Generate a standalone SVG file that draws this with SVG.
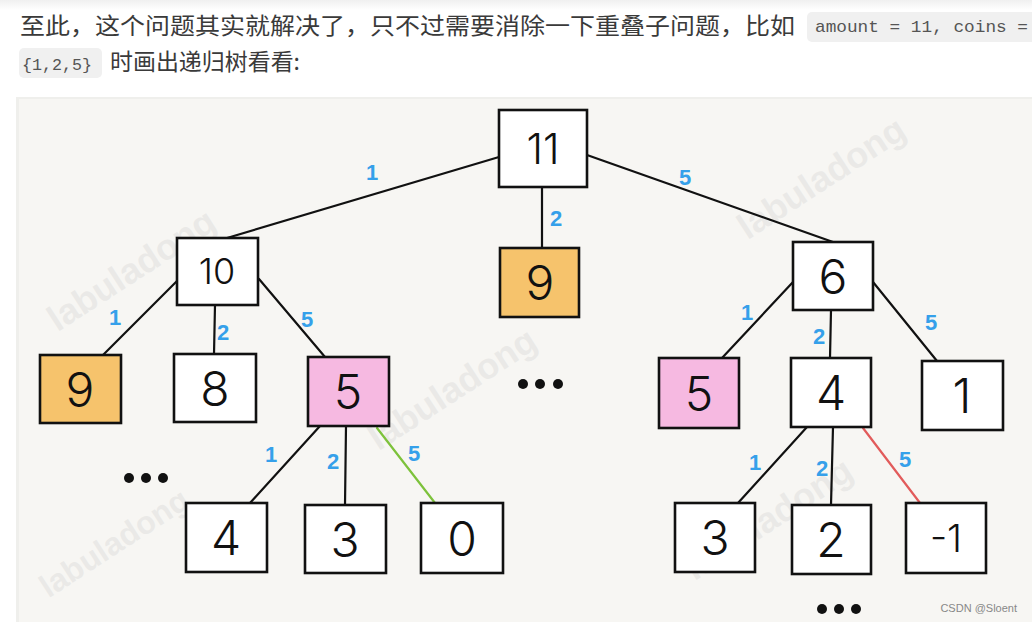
<svg xmlns="http://www.w3.org/2000/svg" width="1032" height="622" viewBox="0 0 1032 622">
<style>
.hdr{font-family:"Noto Sans CJK SC","Liberation Sans",sans-serif;font-size:23px;fill:#3a3a3a}
.code{font-family:"Liberation Mono","DejaVu Sans Mono",monospace;font-size:17px;fill:#555}
.codebg{fill:#f0f0f0}
.box{stroke:#111;stroke-width:2.6;fill:#fff}
.orange{fill:#f6c36c}
.pink{fill:#f6b9e1}
.num{font-family:Inter,Lato,"DejaVu Sans",sans-serif;font-weight:300;font-size:48px;fill:#111;text-anchor:middle}
.edge{stroke:#111;stroke-width:2.2;fill:none;stroke-linecap:round}
.lbl{font-family:"Liberation Sans",Arial,sans-serif;font-size:22px;font-weight:bold;fill:#35a0ea;text-anchor:middle}
.wm{font-family:"Liberation Sans",Arial,sans-serif;font-size:36px;font-weight:bold;fill:#dddddb;fill-opacity:0.5;text-anchor:middle}
.dot{fill:#111}
</style>
<defs>
<linearGradient id="topfade" x1="0" y1="0" x2="0" y2="1">
<stop offset="0" stop-color="#f0f0f0"/>
<stop offset="1" stop-color="#ffffff"/>
</linearGradient>
</defs>
<rect x="0" y="0" width="1032" height="622" fill="#fff"/>
<rect x="0" y="0" width="1032" height="10" fill="url(#topfade)"/>
<!-- header text -->
<text class="hdr" x="20" y="34" textLength="775" lengthAdjust="spacingAndGlyphs">至此，这个问题其实就解决了，只不过需要消除一下重叠子问题，比如</text>
<rect class="codebg" x="807" y="12" width="240" height="30" rx="5"/>
<text class="code" x="815" y="32" textLength="213" lengthAdjust="spacingAndGlyphs">amount = 11, coins =</text>
<rect class="codebg" x="19" y="48" width="83" height="30" rx="5"/>
<text class="code" x="22" y="70" textLength="70" lengthAdjust="spacingAndGlyphs">{1,2,5}</text>
<text class="hdr" x="110" y="70" textLength="190" lengthAdjust="spacingAndGlyphs">时画出递归树看看:</text>
<!-- paper -->
<rect x="16" y="97" width="1020" height="530" fill="#efefec"/>
<rect x="19" y="99" width="1016" height="526" fill="#f7f6f3"/>
<!-- watermarks -->
<g id="watermarks">
<text class="wm" transform="translate(138,280) rotate(-33)">labuladong</text>
<text class="wm" transform="translate(828,188) rotate(-33)">labuladong</text>
<text class="wm" transform="translate(459,399) rotate(-33)">labuladong</text>
<text class="wm" transform="translate(120,552) rotate(-33)" style="font-size:32px">labuladong</text>
<text class="wm" transform="translate(775,529) rotate(-33)">labuladong</text>
</g>
<!-- connectors -->
<g id="connectors">
<line class="edge" x1="499" y1="157" x2="227" y2="238"/>
<line class="edge" x1="542" y1="187" x2="542" y2="248"/>
<line class="edge" x1="587" y1="155" x2="833" y2="242"/>
<line class="edge" x1="177" y1="281" x2="103" y2="355"/>
<line class="edge" x1="215" y1="305" x2="214" y2="354"/>
<line class="edge" x1="259" y1="279" x2="325" y2="357"/>
<line class="edge" x1="320" y1="426" x2="250" y2="503"/>
<line class="edge" x1="346" y1="426" x2="345" y2="505"/>
<line class="edge" x1="377" y1="428" x2="435" y2="503" style="stroke:#7dc23b"/>
<line class="edge" x1="793" y1="282" x2="722" y2="358"/>
<line class="edge" x1="831" y1="310" x2="830" y2="358"/>
<line class="edge" x1="873" y1="282" x2="937" y2="361"/>
<line class="edge" x1="807" y1="427" x2="738" y2="503"/>
<line class="edge" x1="833" y1="427" x2="831" y2="505"/>
<line class="edge" x1="863" y1="428" x2="920" y2="503" style="stroke:#e25b5b"/>
<text class="lbl" x="372" y="180">1</text>
<text class="lbl" x="556" y="226">2</text>
<text class="lbl" x="685" y="185">5</text>
<text class="lbl" x="115" y="325">1</text>
<text class="lbl" x="223" y="340">2</text>
<text class="lbl" x="307" y="327">5</text>
<text class="lbl" x="271" y="462">1</text>
<text class="lbl" x="333" y="469">2</text>
<text class="lbl" x="414" y="461">5</text>
<text class="lbl" x="747" y="320">1</text>
<text class="lbl" x="819" y="344">2</text>
<text class="lbl" x="931" y="330">5</text>
<text class="lbl" x="755" y="470">1</text>
<text class="lbl" x="822" y="476">2</text>
<text class="lbl" x="905" y="467">5</text>
</g>
<!-- nodes -->
<g id="n11"><rect class="box" x="499" y="110" width="88" height="77"/><text class="num" x="543" y="164" style="font-size:42px">11</text></g>
<g id="n10"><rect class="box" x="177" y="238" width="81" height="67"/><text class="num" x="217" y="284" style="font-size:36px">10</text></g>
<g id="n9mid"><rect class="box orange" x="500" y="248" width="79" height="69"/><text class="num" x="540" y="300">9</text></g>
<g id="n6"><rect class="box" x="793" y="242" width="80" height="68"/><text class="num" x="833" y="294">6</text></g>
<g id="n9left"><rect class="box orange" x="40" y="355" width="81" height="68"/><text class="num" x="80" y="407">9</text></g>
<g id="n8"><rect class="box" x="174" y="354" width="82" height="68"/><text class="num" x="215" y="406">8</text></g>
<g id="n5left"><rect class="box pink" x="308" y="357" width="81" height="69"/><text class="num" x="348" y="409">5</text></g>
<g id="n4left"><rect class="box" x="186" y="503" width="81" height="69"/><text class="num" x="226" y="555">4</text></g>
<g id="n3left"><rect class="box" x="305" y="505" width="81" height="68"/><text class="num" x="345" y="557">3</text></g>
<g id="n0"><rect class="box" x="421" y="503" width="82" height="70"/><text class="num" x="462" y="556">0</text></g>
<g id="n5right"><rect class="box pink" x="659" y="358" width="80" height="70"/><text class="num" x="699" y="411">5</text></g>
<g id="n4right"><rect class="box" x="791" y="358" width="80" height="69"/><text class="num" x="831" y="410">4</text></g>
<g id="n1"><rect class="box" x="922" y="361" width="81" height="69"/><text class="num" x="962" y="413">1</text></g>
<g id="n3right"><rect class="box" x="675" y="503" width="80" height="69"/><text class="num" x="715" y="555">3</text></g>
<g id="n2"><rect class="box" x="792" y="505" width="79" height="69"/><text class="num" x="831" y="557">2</text></g>
<g id="nm1"><rect class="box" x="906" y="503" width="80" height="70"/><text class="num" x="946" y="552" style="font-size:38px">-1</text></g>
<!-- ellipses -->
<g id="dots-left"><circle class="dot" cx="129" cy="478" r="5"/><circle class="dot" cx="146" cy="478" r="5"/><circle class="dot" cx="163" cy="478" r="5"/></g>
<g id="dots-mid"><circle class="dot" cx="523" cy="384" r="5"/><circle class="dot" cx="540" cy="384" r="5"/><circle class="dot" cx="558" cy="384" r="5"/></g>
<g id="dots-bottom"><circle class="dot" cx="822" cy="609" r="5"/><circle class="dot" cx="839" cy="609" r="5"/><circle class="dot" cx="856" cy="609" r="5"/></g>
<text x="1017" y="612" style="font-family:'Liberation Sans',Arial,sans-serif;font-size:11px;fill:#888;text-anchor:end">CSDN @Sloent</text>
</svg>
